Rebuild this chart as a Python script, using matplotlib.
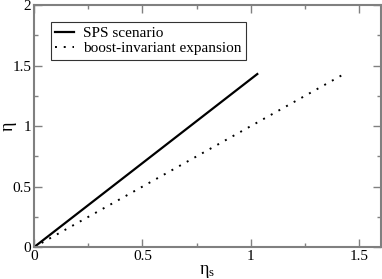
import matplotlib
matplotlib.use('Agg')
import matplotlib.pyplot as plt
from matplotlib.ticker import MultipleLocator

# dados
eta_s_sps = [0.0, 1.03]
eta_sps = [0.0, 1.43]
eta_s_boost = [0.0, 1.44]
eta_boost = [0.0, 1.44]

plt.rcParams['font.family'] = 'Liberation Serif'
plt.rcParams['mathtext.default'] = 'regular'

fig = plt.figure(figsize=(3.82, 2.79), dpi=100)
ax = fig.add_axes([0.089, 0.114, 0.908, 0.868])

ax.plot(eta_s_sps, eta_sps, color='black', lw=1.6, label='SPS scenario')
ax.plot(eta_s_boost, eta_boost, color='black', lw=1.4, linestyle=(0, (1, 3.5)),
        label='boost-invariant expansion')

ax.set_xlim(0, 1.6)
ax.set_ylim(0, 2)
ax.xaxis.set_minor_locator(MultipleLocator(0.25))
ax.yaxis.set_minor_locator(MultipleLocator(0.25))
ax.set_xticks([0, 0.5, 1, 1.5])
ax.set_xticklabels(['0', '0.5', '1', '1.5'])
ax.set_yticks([0, 0.5, 1, 1.5, 2])
ax.set_yticklabels(['0', '0.5', '1', '1.5', '2'])

ax.tick_params(which='both', direction='in', top=True, right=True,
               color='#808080', labelsize=11, pad=2)
ax.tick_params(which='major', length=6, width=1)
ax.tick_params(which='minor', length=3, width=1)
for s in ax.spines.values():
    s.set_color('#808080')
    s.set_linewidth(1.5)

ax.set_xlabel('$η_s$', fontsize=13)
ax.xaxis.set_label_coords(0.5, -0.065)
ax.set_ylabel('η', fontsize=13)
ax.yaxis.set_label_coords(-0.05, 0.5)

leg = ax.legend(loc='upper left', bbox_to_anchor=(0.048, 0.93), fontsize=11,
                frameon=True, fancybox=False, edgecolor='black',
                handlelength=1.2, handletextpad=0.6, borderpad=0.3,
                labelspacing=0.1, borderaxespad=0)
leg.get_frame().set_linewidth(0.8)

fig.savefig('out.png', dpi=100)
